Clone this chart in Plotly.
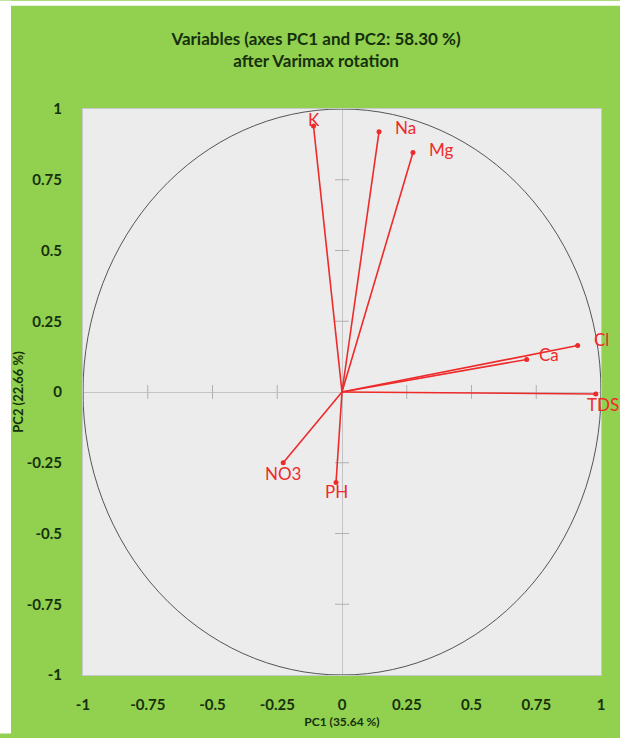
import plotly.graph_objects as go

# Varimax-rotated loadings on PC1 / PC2
variables = ["K", "Na", "Mg", "Cl", "Ca", "TDS", "NO3", "PH"]
pc1 = [-0.11, 0.143, 0.274, 0.91, 0.713, 0.98, -0.227, -0.023]
pc2 = [0.94, 0.92, 0.846, 0.164, 0.115, -0.007, -0.25, -0.32]

# label placement relative to each vector tip (anchor, x offset px, y offset px)
label_anchor = ["center", "left", "left", "left", "left", "left", "center", "center"]
label_dx = [0, 14, 14, 14, 10, -11, 0, 0]
label_dy = [6, 4, 3, 6, 5, -11, -11, -9]

tick_vals = [-1, -0.75, -0.5, -0.25, 0, 0.25, 0.5, 0.75, 1]
tick_text = ["-1", "-0.75", "-0.5", "-0.25", "0", "0.25", "0.5", "0.75", "1"]

RED = "#ee2a2a"
GREEN_BG = "#92d050"
PLOT_BG = "#ececec"
TEXT_DARK = "#16300c"
TICK_GREY = "#b0b0b0"

fig = go.Figure()

# tick marks along the zero axes
minor = [v for v in tick_vals if v != 0]
fig.add_trace(go.Scatter(
    x=minor, y=[0] * len(minor), mode="markers", hoverinfo="skip",
    marker=dict(symbol="line-ns-open", size=10, color=TICK_GREY,
                line=dict(color=TICK_GREY, width=1)),
    showlegend=False))
fig.add_trace(go.Scatter(
    x=[0] * len(minor), y=minor, mode="markers", hoverinfo="skip",
    marker=dict(symbol="line-ew-open", size=10, color=TICK_GREY,
                line=dict(color=TICK_GREY, width=1)),
    showlegend=False))

# vectors from the origin
for name, x, y in zip(variables, pc1, pc2):
    fig.add_trace(go.Scatter(
        x=[0, x], y=[0, y], mode="lines", line=dict(color=RED, width=1.6),
        hoverinfo="skip", showlegend=False))

# vector tips
fig.add_trace(go.Scatter(
    x=pc1, y=pc2, mode="markers", text=variables,
    marker=dict(color=RED, size=5), showlegend=False, name="", cliponaxis=False))

# variable names
for name, x, y, anc, dx, dy in zip(variables, pc1, pc2, label_anchor, label_dx, label_dy):
    fig.add_annotation(x=x, y=y, text=name, showarrow=False,
                       xanchor=anc, yanchor="middle", xshift=dx, yshift=dy,
                       font=dict(family="Lato, sans-serif", size=17, color=RED))

axis_common = dict(
    range=[-1, 1], tickvals=tick_vals, ticktext=tick_text,
    showgrid=False, zeroline=True, zerolinecolor="#c4c4c4", zerolinewidth=1,
    showline=True, linecolor="#c8c8c8", linewidth=1, mirror=True,
    ticks="outside", tickcolor="rgba(0,0,0,0)",
    tickfont=dict(family="Lato, sans-serif", size=15, color=TEXT_DARK, weight="bold"),
)

fig.update_xaxes(**axis_common, ticklen=16,
                 title=dict(text="PC1 (35.64 %)", standoff=5,
                            font=dict(family="Lato, sans-serif", size=12,
                                      color=TEXT_DARK, weight="bold")))
fig.update_yaxes(**axis_common, ticklen=17,
                 title=dict(text="PC2 (22.66 %)", standoff=0,
                            font=dict(family="Lato, sans-serif", size=13,
                                      color=TEXT_DARK, weight="bold")))

# correlation circle
fig.add_shape(type="circle", xref="x", yref="y", x0=-1, y0=-1, x1=1, y1=1,
              line=dict(color="#555555", width=1), layer="above")

# white margin strips on the left and top edges
W, H = 620, 738
L, R, T, B = 83, 19, 109, 59
pw, ph = W - L - R, H - T - B
fig.add_shape(type="rect", xref="paper", yref="paper",
              x0=-L / pw, x1=(11 - L) / pw, y0=-B / ph, y1=(H - B) / ph,
              fillcolor="white", line=dict(width=0), layer="above")
fig.add_shape(type="rect", xref="paper", yref="paper",
              x0=-L / pw, x1=(W - L) / pw, y0=(H - B - 5) / ph, y1=(H - B) / ph,
              fillcolor="white", line=dict(width=0), layer="above")

fig.update_layout(
    width=W, height=H,
    margin=dict(l=L, r=R, t=T, b=B),
    paper_bgcolor=GREEN_BG, plot_bgcolor=PLOT_BG,
    title=dict(text="Variables (axes PC1 and PC2: 58.30 %)<br>after Varimax rotation",
               x=316 / W, xanchor="center", y=1 - 45 / H, yanchor="middle",
               font=dict(family="Lato, sans-serif", size=17, color=TEXT_DARK, weight="bold")),
)

fig.write_html("out.html")
